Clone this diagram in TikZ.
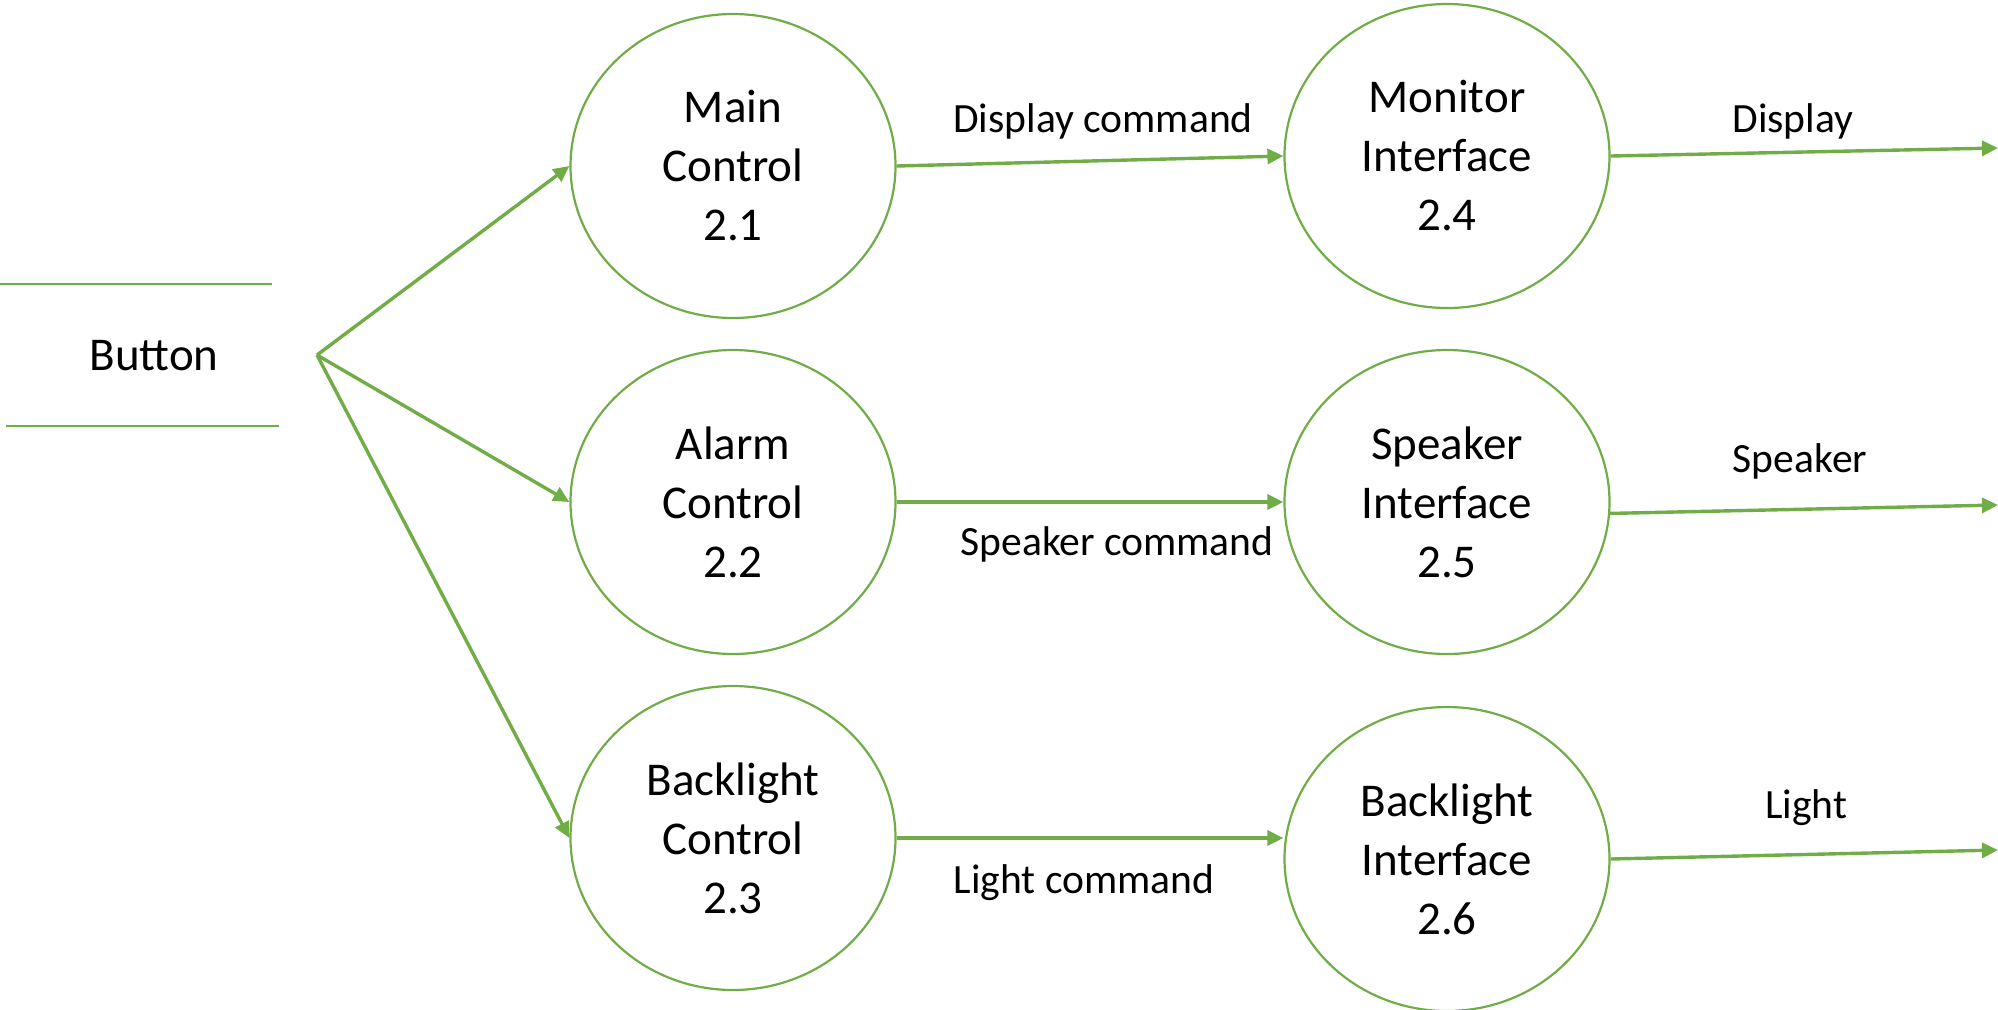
\documentclass[tikz,border=0pt]{standalone}
\usepackage{fontspec}
\setmainfont{Carlito}
\usetikzlibrary{shapes.geometric,arrows.meta}
\definecolor{dfdgreen}{HTML}{70AD47}
\begin{document}
\begin{tikzpicture}[x=0.5pt,y=-0.5pt,
  proc/.style={ellipse,draw=dfdgreen,line width=1.1pt,minimum width=162.5pt,minimum height=152pt,inner sep=0pt,align=center,font=\fontsize{23.5}{29.5}\selectfont},
  flow/.style={draw=dfdgreen,line width=1.7pt,-{Triangle[length=8pt,width=7.5pt]}},
  lbl/.style={anchor=base,inner sep=0pt,font=\fontsize{20.8}{24}\selectfont},
  storeline/.style={draw=dfdgreen,line width=1pt}]
\useasboundingbox (0,0) rectangle (1998,1009);
% store
\node[anchor=base,inner sep=0pt,font=\fontsize{23.5}{28}\selectfont] (btn) at (154,370) {Button};
\draw[storeline] (0,284) -- (272,284);
\draw[storeline] (6,426) -- (279,426);
% processes
\node[proc] (mc) at (733,166) {Main\\Control\\2.1};
\node[proc] (ac) at (733,502) {Alarm\\Control\\2.2};
\node[proc] (bc) at (733,838) {Backlight\\Control\\2.3};
\node[proc] (mi) at (1447,156) {Monitor\\Interface\\2.4};
\node[proc] (si) at (1447,502) {Speaker\\Interface\\2.5};
\node[proc] (bi) at (1447,859) {Backlight\\Interface\\2.6};
% fan-out
\coordinate (fan) at (317,355);
\draw[flow] (fan) -- (mc.west);
\draw[flow] (fan) -- (ac.west);
\draw[flow] (fan) -- (bc.west);
% middle flows
\draw[flow] (mc.east) -- (mi.west);
\draw[flow] (ac.east) -- (si.west);
\draw[flow] (bc.east) -- (bc.east -| bi.west);
% outputs
\coordinate (o1) at (1998,148);
\coordinate (o2) at (1998,505);
\coordinate (o3) at (1998,850);
\draw[flow] (mi.east) -- (o1);
\draw[flow] (si.-4.6) -- (o2);
\draw[flow] (bi.east) -- (o3);
% labels
\node[lbl] (l1) at (1103,132) {Display command};
\node[lbl] (l2) at (1793,132) {Display};
\node[lbl] (l3) at (1117,555) {Speaker command};
\node[lbl] (l4) at (1800,472) {Speaker};
\node[lbl] (l5) at (1084,893) {Light command};
\node[lbl] (l6) at (1806,818) {Light};
\end{tikzpicture}
\end{document}
